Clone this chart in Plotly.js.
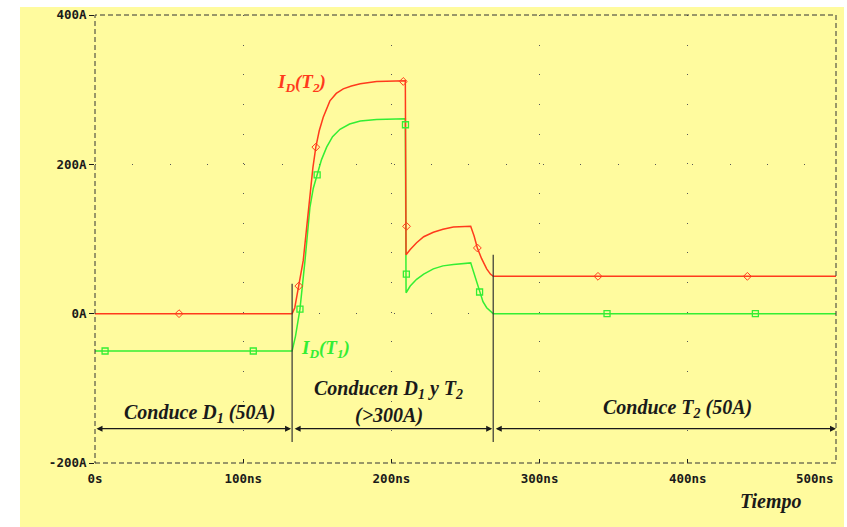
<!DOCTYPE html>
<html>
<head>
<meta charset="utf-8">
<script src="https://cdn.plot.ly/plotly-3.0.1.min.js"></script>
<style>
  html, body { margin: 0; padding: 0; background: #ffffff; width: 847px; height: 527px; overflow: hidden; }
  #chart { position: absolute; left: 20px; top: 7px; width: 824px; height: 520px; }
</style>
</head>
<body>
<div id="chart"></div>
<script>
// ---- Data (time in ns, current in A) ----
const tRed = [0, 133.0, 134.8, 137.5, 140.5, 142.8, 145.0, 147.0, 149.0, 151.3, 154.0, 158.5, 162.8, 167.5, 173.0, 179.0, 190.0, 209.4, 209.9, 212.7, 217.0, 221.8, 228.3, 234.8, 241.8, 253.5, 255.8, 258.0, 260.8, 264.3, 266.8, 268.7, 272.0, 500];
const iRed = [0, 0, 8, 37, 71, 115, 160, 195, 223, 245, 263, 285, 295, 301, 305, 308, 311, 312, 79, 86, 95, 103, 109, 113, 116, 117, 104, 88, 74, 60, 53, 50, 50, 50];

const tGrn = [0, 133.0, 135.3, 138.3, 141.7, 143.3, 145.0, 147.3, 150.0, 152.8, 156.3, 160.3, 165.3, 171.8, 179.0, 190.0, 209.4, 209.9, 212.7, 217.0, 221.8, 228.3, 234.8, 241.8, 253.5, 256.3, 259.5, 261.8, 264.3, 266.8, 268.7, 272.0, 500];
const iGrn = [-50, -50, -30, 6, 71, 106, 142, 168, 186, 206, 223, 237, 247, 254, 258, 260, 261, 28, 37, 46, 53, 60, 64, 66, 68, 50, 29, 16, 8, 3, 0, 0, 0];

// PSpice trace symbols (sampled marker points)
const tRedMk = [56.7, 137.5, 149.0, 208.0, 210.2, 258.0, 339.4, 440.2];
const iRedMk = [0, 37, 223, 311, 117, 88, 50, 50];
const tGrnMk = [6.8, 106.8, 138.3, 149.9, 209.5, 210.1, 259.5, 345.5, 445.6];
const iGrnMk = [-50, -50, 6, 186, 253, 53, 29, 0, 0];

// Phase boundaries (ns) and their vertical extents (A)
const boundT = [133.0, 268.7];
const boundTop = [40, 79];
const boundBottom = -172;
const arrowLevel = -154;
const phaseSegments = [[0, 132.3], [133.7, 268.0], [269.4, 500]];

// Axis ticks (the last x label is right-aligned at the axis end, as in PSpice)
const xTickVals = [0, 100, 200, 300, 400, 500];
const xTickText = ['0s', '100ns', '200ns', '300ns', '400ns', ''];
const xLastLabel = '500ns';
const yTickVals = [-200, 0, 200, 400];
const yTickText = ['-200A', '0A', '200A', '400A'];

const RED = '#FF3A1C';
const GREEN = '#33EE33';
const INK = '#1a1a1a';
const NB = '\u00a0';

const traces = [
  { x: tGrn, y: iGrn, type: 'scatter', mode: 'lines', line: { color: GREEN, width: 1.5 }, hoverinfo: 'skip', showlegend: false },
  { x: tRed, y: iRed, type: 'scatter', mode: 'lines', line: { color: RED, width: 1.5 }, hoverinfo: 'skip', showlegend: false },
  { x: tGrnMk, y: iGrnMk, type: 'scatter', mode: 'markers', marker: { symbol: 'square-open', size: 6, color: GREEN, line: { width: 1.3, color: GREEN } }, showlegend: false },
  { x: tRedMk, y: iRedMk, type: 'scatter', mode: 'markers', marker: { symbol: 'diamond-open', size: 6, color: RED, line: { width: 1, color: RED } }, showlegend: false }
];

const shapes = [
  { type: 'rect', xref: 'paper', yref: 'paper', x0: 0, x1: 1, y0: 0, y1: 1, line: { color: '#333', width: 1, dash: '5px,3px' }, layer: 'above' }
];
boundT.forEach((t, k) => {
  shapes.push({ type: 'line', xref: 'x', yref: 'y', x0: t, x1: t, y0: boundBottom, y1: boundTop[k], line: { color: '#333', width: 1.2 } });
});

const serif = 'Liberation Serif';
const tickFont = { family: 'DejaVu Sans Mono, monospace', size: 12.5, color: INK, weight: 'bold' };
const annotations = [];
phaseSegments.forEach(s => {
  annotations.push({
    x: s[1], y: arrowLevel, ax: s[0], ay: arrowLevel, axref: 'x', ayref: 'y', xref: 'x', yref: 'y',
    text: '', showarrow: true, arrowhead: 2, startarrowhead: 2, arrowside: 'end+start',
    arrowsize: 1, startarrowsize: 1, arrowwidth: 1.2, arrowcolor: INK, standoff: 0, startstandoff: 0
  });
});
const B = s => '<b><i>' + s + '</i></b>';
const S = s => '<sub><i>' + s + '</i></sub>';
const lbl = (x, y, text, color, size, xref, yref) => ({
  x: x, y: y, xref: xref || 'x', yref: yref || 'y', text: text, showarrow: false,
  font: { family: serif, size: size, color: color, weight: 700, style: 'italic' },
  xanchor: 'center', yanchor: 'middle'
});
annotations.push(lbl(70.8, -134, B('Conduce D') + S('1') + B(NB + '(50A)'), INK, 20));
annotations.push(lbl(198, -102, B('Conducen D') + S('1') + B(NB + 'y T') + S('2'), INK, 20));
annotations.push(lbl(198.5, -136, B('(&gt;300A)'), INK, 20));
annotations.push(lbl(393, -127, B('Conduce T') + S('2') + B(NB + '(50A)'), INK, 20));
annotations.push(lbl(456, -0.087, B('Tiempo'), INK, 20, 'x', 'paper'));
annotations.push(lbl(139.2, 309, B('I') + S('D') + B('(T') + S('2') + B(')'), RED, 19));
annotations.push(lbl(155.7, -47, B('I') + S('D') + B('(T') + S('1') + B(')'), GREEN, 19));
annotations.push({
  x: 500, y: -0.0335, xref: 'x', yref: 'paper', text: xLastLabel, showarrow: false,
  font: tickFont, xanchor: 'right', yanchor: 'middle'
});

const layout = {
  width: 824, height: 520,
  margin: { l: 75, r: 8, t: 8, b: 64 },
  paper_bgcolor: '#FFFB9E',
  plot_bgcolor: '#FFFB9E',
  showlegend: false,
  xaxis: {
    range: [0, 500], tickvals: xTickVals, ticktext: xTickText,
    ticks: 'inside', ticklen: 4, tickcolor: INK, tickwidth: 1,
    ticklabelstandoff: 6,
    showgrid: true, gridcolor: '#555', gridwidth: 1, griddash: '1px,28.66px',
    zeroline: false, showline: false, tickfont: tickFont, fixedrange: true
  },
  yaxis: {
    range: [-200, 400], tickvals: yTickVals, ticktext: yTickText,
    ticks: 'outside', ticklen: 5, tickcolor: INK, tickwidth: 1,
    showgrid: true, gridcolor: '#555', gridwidth: 1, griddash: '1px,36.33px',
    zeroline: false, showline: false, tickfont: tickFont, fixedrange: true
  },
  shapes: shapes,
  annotations: annotations
};

Plotly.newPlot('chart', traces, layout, { displayModeBar: false, staticPlot: true });
</script>
</body>
</html>
